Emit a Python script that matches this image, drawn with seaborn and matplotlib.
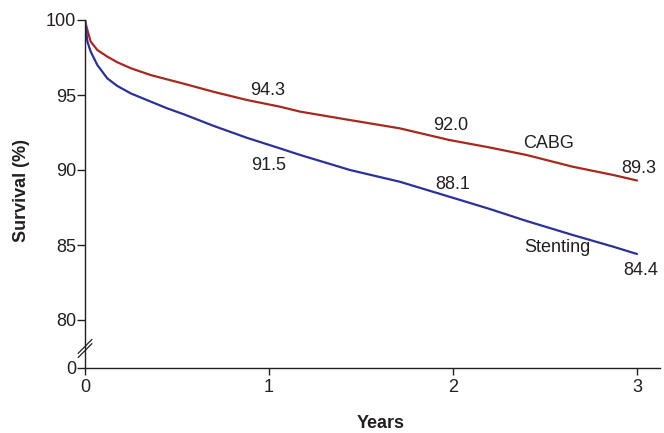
import seaborn as sns
import matplotlib.pyplot as plt
import pandas as pd
import numpy as np

# Kaplan-Meier style survival
years = [0, 0.005, 0.013, 0.031, 0.067, 0.121, 0.176, 0.25, 0.357, 0.447, 0.538,
         0.697, 0.879, 1.06, 1.17, 1.44, 1.71, 1.98, 2.2, 2.4, 2.65, 2.87, 3.0]
cabg = [100, 99.7, 99.33, 98.56, 98.0, 97.56, 97.18, 96.78, 96.33, 96.04, 95.75,
        95.22, 94.67, 94.22, 93.89, 93.33, 92.78, 92.0, 91.5, 91.0, 90.22, 89.67, 89.3]
stenting = [100, 99.4, 98.56, 97.89, 97.0, 96.11, 95.6, 95.1, 94.56, 94.11, 93.71,
            92.95, 92.15, 91.44, 91.0, 90.0, 89.22, 88.22, 87.4, 86.6, 85.67, 84.89, 84.4]

groups = ["CABG", "Stenting"]
colors = ["#a8281e", "#2a3199"]

# annotated values at years 1, 2, 3
mark_years = [1, 2, 3]
cabg_marks = ["94.3", "92.0", "89.3"]
stent_marks = ["91.5", "88.1", "84.4"]

ytick_vals = [80, 85, 90, 95, 100]

sns.set_style("ticks")
plt.rcParams["font.family"] = ["Liberation Sans", "DejaVu Sans"]

df = pd.DataFrame({
    "Years": years * 2,
    "Survival": cabg + stenting,
    "group": ["CABG"] * len(years) + ["Stenting"] * len(years),
})

fig = plt.figure(figsize=(6.64, 4.33), dpi=100)
ax = fig.add_axes([85 / 664, 1 - 368 / 433, 575 / 664, 348 / 433])

sns.lineplot(data=df, x="Years", y="Survival", hue="group", palette=colors,
             hue_order=groups, linewidth=1.6, legend=False, ax=ax)

# broken axis: the bottom tick stands for 0
y_zero = 76.8
ax.set_ylim(y_zero, 100)
ax.set_xlim(0, 3.125)
ax.set_yticks([y_zero] + ytick_vals, ["0"] + [str(v) for v in ytick_vals])
ax.set_xticks([0, 1, 2, 3], ["0", "1", "2", "3"])
ax.tick_params(axis="y", length=6, width=1, pad=0.5, labelsize=13, colors="#231f20")
ax.tick_params(axis="x", length=5, width=1, pad=3, labelsize=13, colors="#231f20")
for s in ["top", "right"]:
    ax.spines[s].set_visible(False)
for s in ["left", "bottom"]:
    ax.spines[s].set_linewidth(1)
    ax.spines[s].set_color("#231f20")

# break marks
for dy in [0, 0.012]:
    ax.plot([-0.012, 0.012], [0.03 + dy, 0.07 + dy], transform=ax.transAxes,
            color="#231f20", lw=0.9, clip_on=False)

ax.set_ylabel("Survival (%)", fontsize=13, fontweight="bold", color="#231f20")
ax.yaxis.set_label_coords(-0.096, 0.51)
ax.set_xlabel("Years", fontsize=13, fontweight="bold", color="#231f20")
ax.xaxis.set_label_coords(0.515, -0.135)

# value labels
cabg_y = [95.3, 93.0, 90.1]
stent_y = [90.3, 89.05, 83.3]
for i, yr in enumerate(mark_years):
    xo = 0.02 if yr == 3 else 0
    ax.text(yr + xo - 0.01, cabg_y[i], cabg_marks[i], ha="center", va="center",
            fontsize=13, color="#231f20")
    ax.text(yr + xo, stent_y[i], stent_marks[i], ha="center", va="center",
            fontsize=13, color="#231f20")
ax.text(2.52, 91.8, "CABG", ha="center", va="center", fontsize=13, color="#231f20")
ax.text(2.565, 84.85, "Stenting", ha="center", va="center", fontsize=13, color="#231f20")

fig.savefig("out.png", dpi=100)
